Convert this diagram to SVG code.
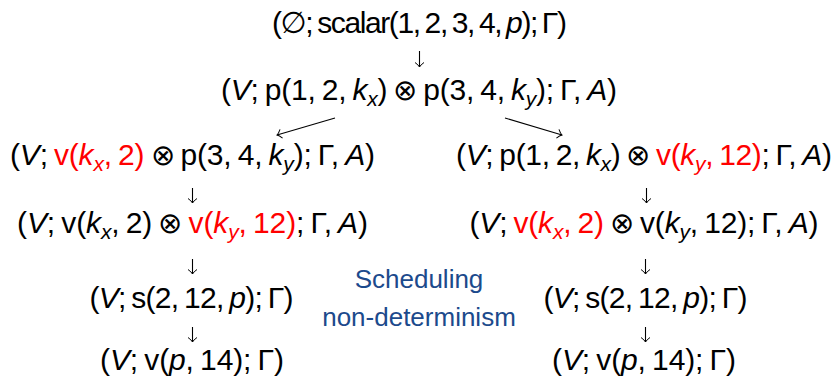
<svg xmlns="http://www.w3.org/2000/svg" width="839" height="381" viewBox="0 0 839 381">
<style>
.t{font-family:"Liberation Sans","DejaVu Sans",sans-serif;font-size:30px;fill:#000;word-spacing:-2px;text-anchor:middle}
.i{font-style:italic}
.r{fill:#ff0000}
.s{font-size:21px}
.o{font-family:"DejaVu Sans",sans-serif;font-weight:200;font-size:29px}
.b{font-family:"Liberation Sans","DejaVu Sans",sans-serif;font-size:26px;fill:#1c4a8c;text-anchor:middle}
.c{stroke:#000;stroke-width:1.1;fill:none}
</style>
<defs>
<marker id="ah" markerUnits="userSpaceOnUse" markerWidth="14" markerHeight="14" refX="7" refY="7" orient="auto">
<path d="M2.5 2.5 Q5 6 7 7 Q5 8 2.5 11.5" stroke="#000" stroke-width="1" fill="none"/>
</marker>
</defs>
<g id="n1"><text class="t" x="419.5" y="33" textLength="295" lengthAdjust="spacing">(∅; scalar(1, 2, 3, 4, <tspan class="i">p</tspan>); Γ)</text></g>
<g id="n2"><text class="t" x="419" y="100" textLength="396" lengthAdjust="spacing">(<tspan class="i">V</tspan>; p(1, 2, <tspan class="i">k</tspan><tspan class="i s" dy="6">x</tspan><tspan dy="-6">)</tspan> <tspan class="o">⊗</tspan> p(3, 4, <tspan class="i">k</tspan><tspan class="i s" dy="6">y</tspan><tspan dy="-6">);</tspan> Γ, <tspan class="i">A</tspan>)</text></g>
<g id="n3l"><text class="t" x="192.5" y="165" textLength="365" lengthAdjust="spacing">(<tspan class="i">V</tspan>; <tspan class="r">v(<tspan class="i">k</tspan><tspan class="i s" dy="6">x</tspan><tspan dy="-6">,</tspan> 2)</tspan> <tspan class="o">⊗</tspan> p(3, 4, <tspan class="i">k</tspan><tspan class="i s" dy="6">y</tspan><tspan dy="-6">);</tspan> Γ, <tspan class="i">A</tspan>)</text></g>
<g id="n3r"><text class="t" x="644" y="165" textLength="376" lengthAdjust="spacing">(<tspan class="i">V</tspan>; p(1, 2, <tspan class="i">k</tspan><tspan class="i s" dy="6">x</tspan><tspan dy="-6">)</tspan> <tspan class="o">⊗</tspan> <tspan class="r">v(<tspan class="i">k</tspan><tspan class="i s" dy="6">y</tspan><tspan dy="-6">,</tspan> 12)</tspan>; Γ, <tspan class="i">A</tspan>)</text></g>
<g id="n4l"><text class="t" x="192.5" y="233" textLength="351" lengthAdjust="spacing">(<tspan class="i">V</tspan>; v(<tspan class="i">k</tspan><tspan class="i s" dy="6">x</tspan><tspan dy="-6">,</tspan> 2) <tspan class="o">⊗</tspan> <tspan class="r">v(<tspan class="i">k</tspan><tspan class="i s" dy="6">y</tspan><tspan dy="-6">,</tspan> 12)</tspan>; Γ, <tspan class="i">A</tspan>)</text></g>
<g id="n4r"><text class="t" x="644" y="233" textLength="349" lengthAdjust="spacing">(<tspan class="i">V</tspan>; <tspan class="r">v(<tspan class="i">k</tspan><tspan class="i s" dy="6">x</tspan><tspan dy="-6">,</tspan> 2)</tspan> <tspan class="o">⊗</tspan> v(<tspan class="i">k</tspan><tspan class="i s" dy="6">y</tspan><tspan dy="-6">,</tspan> 12); Γ, <tspan class="i">A</tspan>)</text></g>
<g id="n5l"><text class="t" x="191.5" y="308" textLength="204" lengthAdjust="spacing">(<tspan class="i">V</tspan>; s(2, 12, <tspan class="i">p</tspan>); Γ)</text></g>
<g id="n5r"><text class="t" x="645.5" y="308" textLength="204" lengthAdjust="spacing">(<tspan class="i">V</tspan>; s(2, 12, <tspan class="i">p</tspan>); Γ)</text></g>
<g id="n6l"><text class="t" x="192" y="370" textLength="184" lengthAdjust="spacing">(<tspan class="i">V</tspan>; v(<tspan class="i">p</tspan>, 14); Γ)</text></g>
<g id="n6r"><text class="t" x="644" y="370" textLength="184" lengthAdjust="spacing">(<tspan class="i">V</tspan>; v(<tspan class="i">p</tspan>, 14); Γ)</text></g>
<g id="label"><text class="b" x="419" y="288">Scheduling</text><text class="b" x="419" y="326">non-determinism</text></g>
<g id="connectors">
<line class="c" x1="419.5" y1="51" x2="419.5" y2="67" marker-end="url(#ah)"/>
<line class="c" x1="335" y1="118" x2="277" y2="135" marker-end="url(#ah)"/>
<line class="c" x1="505" y1="118" x2="562" y2="135" marker-end="url(#ah)"/>
<line class="c" x1="192.5" y1="188" x2="192.5" y2="203" marker-end="url(#ah)"/>
<line class="c" x1="646.5" y1="188" x2="646.5" y2="203" marker-end="url(#ah)"/>
<line class="c" x1="192.5" y1="259" x2="192.5" y2="274" marker-end="url(#ah)"/>
<line class="c" x1="645.5" y1="259" x2="645.5" y2="274" marker-end="url(#ah)"/>
<line class="c" x1="192.5" y1="327" x2="192.5" y2="342" marker-end="url(#ah)"/>
<line class="c" x1="645.5" y1="327" x2="645.5" y2="342" marker-end="url(#ah)"/>
</g>
</svg>
